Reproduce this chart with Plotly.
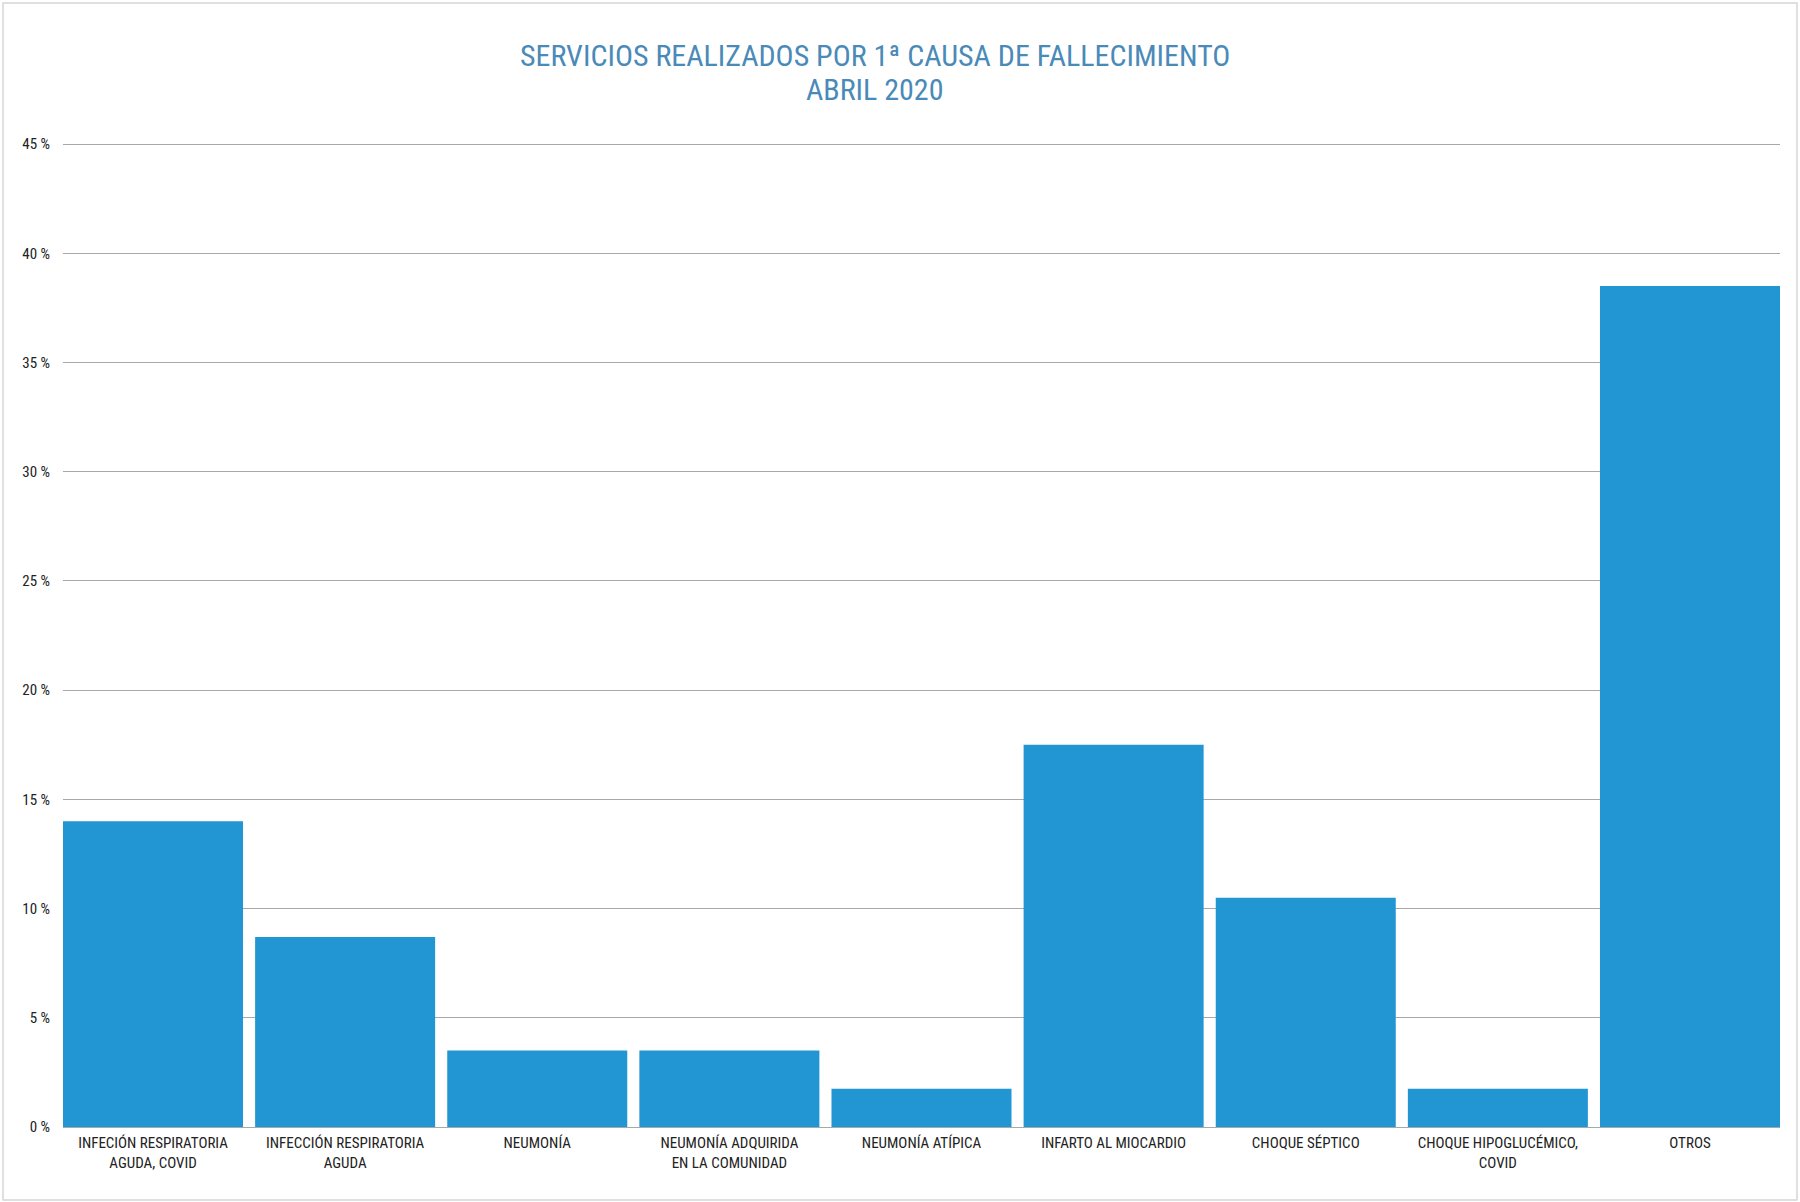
import plotly.graph_objects as go

# causas de fallecimiento, abril 2020
causas = [
    "INFECIÓN RESPIRATORIA<br>AGUDA, COVID",
    "INFECCIÓN RESPIRATORIA<br>AGUDA",
    "NEUMONÍA",
    "NEUMONÍA ADQUIRIDA<br>EN LA COMUNIDAD",
    "NEUMONÍA ATÍPICA",
    "INFARTO AL MIOCARDIO",
    "CHOQUE SÉPTICO",
    "CHOQUE HIPOGLUCÉMICO,<br>COVID",
    "OTROS",
]
porcentaje = [14.0, 8.7, 3.5, 3.5, 1.75, 17.5, 10.5, 1.75, 38.5]
y_ticks = [0, 5, 10, 15, 20, 25, 30, 35, 40, 45]
y_labels = [f"{v} %" for v in y_ticks]
titulo = ["SERVICIOS REALIZADOS POR 1ª CAUSA DE FALLECIMIENTO", "ABRIL 2020"]

W, H = 1800, 1202
ml, mr, mt, mb = 63, 20, 143, 75
gap = 0.063

narrow = "Liberation Sans Narrow, Roboto Condensed, Arial Narrow, sans-serif"

fig = go.Figure(
    go.Bar(x=causas, y=porcentaje, marker=dict(color="#2196d3", line=dict(width=0)))
)

# thin frame round the whole picture (paper coords go past the plot area)
pw, ph = W - ml - mr, H - mt - mb
fig.add_shape(type="rect", xref="paper", yref="paper",
              x0=(3 - ml) / pw, x1=(W - 3 - ml) / pw,
              y0=-(H - 2 - mt - ph) / ph, y1=1 + (mt - 3) / ph,
              line=dict(color="#d6d6d6", width=1.5), layer="below")

# title: one annotation per line, so the line spacing can be set
for linea, ypix in zip(titulo, [55, 90]):
    fig.add_annotation(
        text=linea,
        xref="paper", yref="paper", x=(875 - ml) / pw,
        y=1 + (mt - ypix) / ph, xanchor="center", yanchor="middle",
        showarrow=False,
        font=dict(family=narrow, size=30, color="#4a8ab8"),
    )

fig.update_layout(
    width=W, height=H,
    margin=dict(l=ml, r=mr, t=mt, b=mb),
    paper_bgcolor="white", plot_bgcolor="white",
    bargap=gap,
    showlegend=False,
    font=dict(family=narrow, size=15, color="#222222"),
)
fig.update_xaxes(
    range=[-0.5 + gap / 2, len(causas) - 0.5 - gap / 2],
    showgrid=False, showline=False, ticks="", ticklabelstandoff=5,
    tickfont=dict(size=15, color="#222222"),
)
fig.update_yaxes(
    range=[0, 45.05], tickvals=y_ticks, ticktext=y_labels,
    showgrid=True, gridcolor="#a8a8a8", gridwidth=1.2,
    zeroline=True, zerolinecolor="#a8a8a8", zerolinewidth=1.2,
    showline=False, ticks="", ticklabelstandoff=12,
    tickfont=dict(size=15, color="#222222"),
)

fig.write_html("out.html", config={"displayModeBar": False},
               post_script="document.body.style.margin='0';")
